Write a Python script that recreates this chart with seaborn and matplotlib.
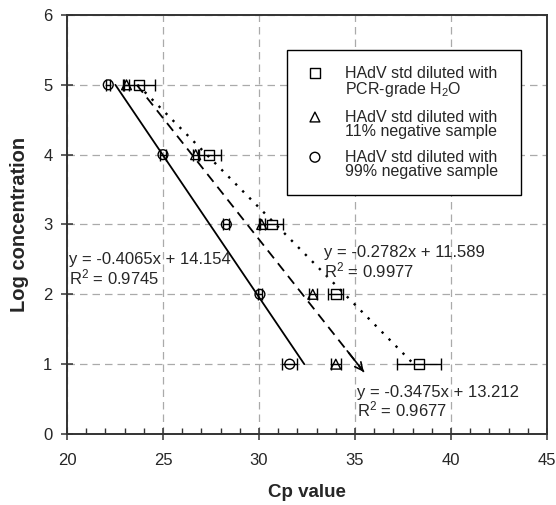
import numpy as np
import pandas as pd
import matplotlib
matplotlib.use("Agg")
import matplotlib.pyplot as plt
import seaborn as sns
from matplotlib.ticker import MultipleLocator

# Log concentration of each dilution step
log_conc = [5, 4, 3, 2, 1]

# Mean Cp values and error bar half-widths for each dilution series
cp_h2o = [23.75, 27.4, 30.66, 34.0, 38.35]
err_h2o = [0.85, 0.6, 0.6, 0.4, 1.15]
cp_neg11 = [23.1, 26.7, 30.14, 32.8, 34.0]
err_neg11 = [0.15, 0.15, 0.15, 0.2, 0.25]
cp_neg99 = [22.15, 25.0, 28.3, 30.05, 31.6]
err_neg99 = [0.1, 0.15, 0.15, 0.1, 0.4]

# Linear fits (slope, intercept, R^2) and the y range each trend line covers
fit_h2o = (-0.2782, 11.589, 0.9977)
fit_neg11 = (-0.3475, 13.212, 0.9677)
fit_neg99 = (-0.4065, 14.154, 0.9745)
trend_y_h2o = [5, 1.0]
trend_y_neg11 = [5, 0.89]
trend_y_neg99 = [5, 1.0]

labels = ["HAdV std diluted with\nPCR-grade H$_2$O",
          "HAdV std diluted with\n11% negative sample",
          "HAdV std diluted with\n99% negative sample"]

sns.set_style("white")
plt.rcParams['font.family'] = ['Liberation Sans', 'DejaVu Sans']
plt.rcParams['mathtext.fontset'] = 'custom'
plt.rcParams['mathtext.rm'] = 'Liberation Sans'
plt.rcParams['mathtext.it'] = 'Liberation Sans:italic'

fig = plt.figure(figsize=(5.56, 5.05), dpi=100)
ax = fig.add_axes([0.1205, 0.1406, 0.8633, 0.8297])

series = [
    (cp_h2o, err_h2o, fit_h2o, trend_y_h2o, 's', (0, (1, 3.2)), labels[0]),
    (cp_neg11, err_neg11, fit_neg11, trend_y_neg11, '^', (0, (5.5, 3.5)), labels[1]),
    (cp_neg99, err_neg99, fit_neg99, trend_y_neg99, 'o', '-', labels[2]),
]

for cp, err, fit, ty, mk, ls, lab in series:
    slope, icpt, r2 = fit
    ty = np.array(ty)
    tx = (ty - icpt) / slope
    lw = 1.7 if mk == 's' else 1.3
    sns.lineplot(x=tx, y=ty, ax=ax, color='black', lw=lw, linestyle=ls, sort=False,
                 estimator=None)
    ax.errorbar(cp, log_conc, xerr=err, fmt='none', ecolor='black',
                elinewidth=1, capsize=4, capthick=1)
    df = pd.DataFrame({'cp': cp, 'conc': log_conc})
    sns.scatterplot(data=df, x='cp', y='conc', ax=ax, marker=mk, s=50,
                    facecolor='none', edgecolor='black', linewidth=1, label=lab,
                    zorder=3)

# arrow head at the end of the dashed trend line
slope, icpt, _ = fit_neg11
y_end = trend_y_neg11[1]
ax.annotate("", xy=((y_end - icpt) / slope, y_end),
            xytext=((y_end + 0.3 - icpt) / slope, y_end + 0.3),
            arrowprops=dict(arrowstyle='->', color='black', lw=1.2,
                            mutation_scale=14, shrinkA=0, shrinkB=0))

# Equations
eq_fs = 12
ax.text(20.1, 2.355, "y = -0.4065x + 14.154\nR$^2$ = 0.9745", fontsize=eq_fs,
        va='center', ha='left', linespacing=1.0)
ax.text(33.4, 2.455, "y = -0.2782x + 11.589\nR$^2$ = 0.9977", fontsize=eq_fs,
        va='center', ha='left', linespacing=1.0)
ax.text(35.1, 0.455, "y = -0.3475x + 13.212\nR$^2$ = 0.9677", fontsize=eq_fs,
        va='center', ha='left', linespacing=1.0)

ax.set_xlim(20, 45)
ax.set_ylim(0, 6)
ax.xaxis.set_major_locator(MultipleLocator(5))
ax.xaxis.set_minor_locator(MultipleLocator(1))
ax.yaxis.set_major_locator(MultipleLocator(1))

ax.grid(True, which='major', linestyle=(0, (6, 4)), color='#aaaaaa', lw=0.9)
ax.set_axisbelow(True)
for sp in ax.spines.values():
    sp.set_color('#333333')
    sp.set_linewidth(1.4)
    sp.set_visible(True)

ax.tick_params(axis='both', which='major', direction='inout', length=9, width=1.1,
               color='#333333', labelsize=12)
ax.tick_params(axis='x', which='major', pad=9, bottom=True)
ax.tick_params(axis='y', which='major', pad=6, left=True)
ax.tick_params(axis='x', which='minor', direction='in', length=4, width=1,
               color='#333333', bottom=True)

ax.set_xlabel("Cp value", fontsize=13.5, fontweight='bold', labelpad=12)
ax.set_ylabel("Log concentration", fontsize=14.5, fontweight='bold', labelpad=10)

leg = ax.legend(loc='upper left', bbox_to_anchor=(0.4583, 0.5, 0.4875, 0.4165),
                mode='expand', fontsize=11.5, frameon=True, fancybox=False,
                edgecolor='black', framealpha=1, borderpad=1.0, labelspacing=0.7,
                handlelength=1.5, handletextpad=1.15, borderaxespad=0)
leg.get_frame().set_linewidth(1.0)
for t in leg.get_texts():
    t.set_linespacing(0.92)
for col in leg._legend_handle_box.get_children():
    for item in col.get_children():
        item.align = 'top'

fig.savefig("out.png", dpi=100)
